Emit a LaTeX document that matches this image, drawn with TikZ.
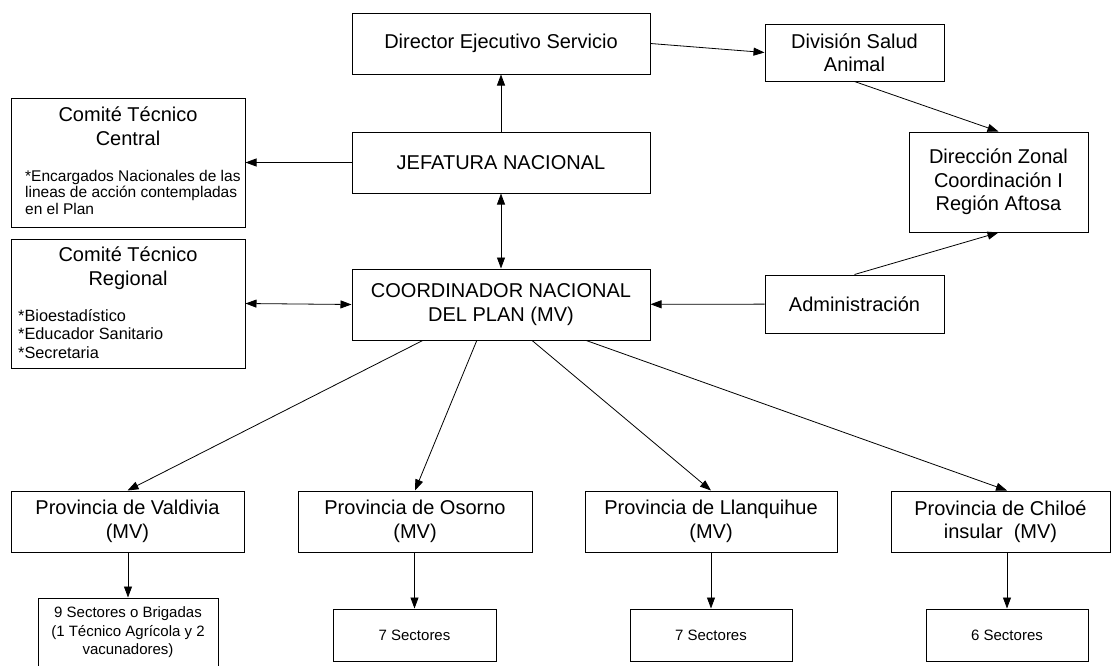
\documentclass[tikz,border=0pt]{standalone}
\usepackage{fontspec}
\setmainfont{Liberation Sans}
\usetikzlibrary{positioning,arrows.meta,calc}

\newcommand{\bigtxt}{\fontsize{20}{23.5}\selectfont}
\newcommand{\listtxt}{\fontsize{15.5}{16.7}\selectfont}
\newcommand{\regtxt}{\fontsize{16.3}{18.2}\selectfont}
\newcommand{\sectxt}{\fontsize{15}{18.5}\selectfont}

\begin{document}
\begin{tikzpicture}[x=1pt,y=-1pt,
  box/.style={draw, line width=1pt, inner sep=0pt, align=center, font=\bigtxt},
  secbox/.style={box, font=\sectxt},
  link/.style={line width=0.8pt, -{Triangle[length=11pt,width=8pt]}},
  both/.style={line width=0.8pt, {Triangle[length=11pt,width=8pt]}-{Triangle[length=11pt,width=8pt]}}]
\useasboundingbox (0,0) rectangle (1112,665);

% Central column
\node[box, minimum width=298, minimum height=61] (dir) at (501,43.5) {Director Ejecutivo Servicio};
\node[box, minimum width=298, minimum height=61] (jef) at (501,162.5) {JEFATURA NACIONAL};
\node[box, minimum width=298, minimum height=71] (coord) at (501,304.5) {COORDINADOR NACIONAL\\DEL PLAN (MV)};

% Right column
\node[box, minimum width=179, minimum height=57] (div) at (854.5,52.5) {División Salud\\Animal};
\node[box, minimum width=179, minimum height=100] (zon) at (998.5,182) {Dirección Zonal\\Coordinación I\\Región Aftosa};
\node[box, minimum width=179, minimum height=58] (adm) at (854.5,304) {Administración};

% Committees (base anchor sits on the last line)
\node[box, minimum width=234, minimum height=129] (cen) at (128,162.5) {};
\node[anchor=base, align=center, inner sep=0pt, font=\bigtxt] (cen-t) at (128,145) {Comité Técnico\\Central};
\node[anchor=base west, align=left, inner sep=0pt, font=\listtxt] (cen-l) at (25,214.5)
  {*Encargados Nacionales de las\\lineas de acción contempladas\\en el Plan};
\node[box, minimum width=234, minimum height=129] (reg) at (128,303.5) {};
\node[anchor=base, align=center, inner sep=0pt, font=\bigtxt] (reg-t) at (128,285) {Comité Técnico\\Regional};
\node[anchor=base west, align=left, inner sep=0pt, font=\regtxt] (reg-l) at (18,358)
  {*Bioestadístico\\*Educador Sanitario\\*Secretaria};

% Provinces
\node[box, minimum width=233, minimum height=61] (pv) at (127.5,521.5) {Provincia de Valdivia\\(MV)};
\node[box, minimum width=234, minimum height=61] (po) at (415,521.5) {Provincia de Osorno\\(MV)};
\node[box, minimum width=252, minimum height=61] (pl) at (711,521.5) {Provincia de Llanquihue\\(MV)};
\node[box, minimum width=219, minimum height=61] (pc) at (1000.5,521.5) {Provincia de Chiloé\\insular~ (MV)};

% Sectors
\node[secbox, minimum width=180, minimum height=69] (s1) at (128,632.5) {9 Sectores o Brigadas\\(1 Técnico Agrícola y 2\\vacunadores)};
\node[secbox, minimum width=163, minimum height=52] (s2) at (414.5,635) {7 Sectores};
\node[secbox, minimum width=162, minimum height=52] (s3) at (711,635) {7 Sectores};
\node[secbox, minimum width=162, minimum height=52] (s4) at (1007,635) {6 Sectores};

% Connectors
\draw[link] (jef) -- (dir);
\draw[link] (dir.east) -- (div.west);
\draw[link] (div.south) -- (zon.north);
\draw[link] (adm.north) -- (zon.south);
\draw[link] (adm) -- (coord);
\draw[link] (jef) -- (cen);
\draw[both] (reg.east) -- (coord.west);
\draw[both] (jef) -- (coord);

\foreach \f/\p in {0.238/pv.north, 0.419/po.north, 0.604/pl.north, 0.785/{pc.north -| s4.north}}
  \draw[link] ($(coord.south west)!\f!(coord.south east)$) -- (\p);
\foreach \p/\s in {pv/s1, po/s2, pl/s3, pc/s4}
  \draw[link] (\p.south -| \s.north) -- (\s.north);

\end{tikzpicture}
\end{document}
